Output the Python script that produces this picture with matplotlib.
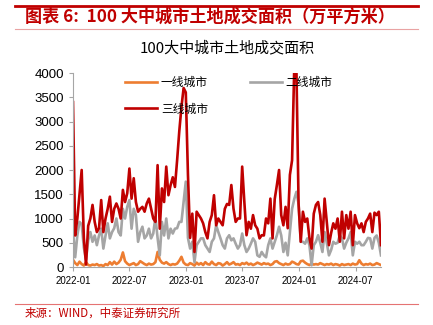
import pandas as pd
import matplotlib
matplotlib.use("Agg")
from matplotlib import pyplot as plt
import matplotlib.dates as mdates

plt.rcParams['font.family'] = ['Noto Sans CJK SC', 'DejaVu Sans']

# 周度数据，2022-01起
tier1 = [150, 80, 40, 110, 60, 30, 100, 40, 30, 50,
         40, 60, 30, 40, 20, 60, 40, 100, 50, 110,
         60, 90, 150, 300, 120, 70, 40, 60, 80, 40,
         60, 120, 90, 60, 40, 70, 50, 60, 100, 310,
         150, 90, 70, 100, 60, 40, 60, 50, 70, 130,
         210, 90, 50, 40, 80, 60, 30, 90, 50, 80,
         40, 100, 60, 50, 110, 60, 40, 80, 70, 30,
         60, 100, 50, 70, 100, 50, 60, 40, 80, 60,
         90, 50, 70, 40, 60, 90, 70, 50, 80, 60,
         70, 40, 60, 110, 120, 80, 60, 40, 70, 50,
         60, 110, 90, 60, 50, 120, 130, 90, 60, 40,
         70, 50, 60, 50, 80, 60, 40, 60, 50, 70,
         40, 60, 50, 30, 60, 40, 50, 60, 40, 70,
         50, 60, 140, 70, 40, 60, 50, 70, 40, 50,
         80, 60, 40]

tier2 = [750, 200, 650, 930, 880, 400, 150, 550, 720, 520,
         650, 450, 650, 790, 380, 650, 900, 590, 720, 800,
         1000, 720, 650, 1200, 1000, 1240, 1380, 790, 1200, 1070,
         520, 720, 830, 590, 650, 790, 590, 690, 1030, 600,
         240, 930, 650, 1000, 590, 790, 690, 790, 800, 930,
         930, 1340, 1760, 600, 380, 520, 100, 450, 520, 590,
         590, 450, 380, 310, 520, 590, 860, 720, 590, 450,
         380, 590, 655, 550, 590, 480, 380, 450, 690, 450,
         310, 380, 480, 590, 520, 240, 210, 310, 240, 200,
         450, 590, 380, 520, 655, 830, 650, 310, 500, 240,
         720, 1200, 1400, 1550, 1300, 520, 520, 480, 590, 450,
         35, 450, 520, 655, 500, 310, 720, 500, 240, 350,
         520, 480, 500, 655, 590, 380, 500, 590, 720, 240,
         520, 480, 520, 450, 450, 520, 600, 590, 380, 600,
         650, 500, 240]

tier3 = [3400, 650, 1000, 1500, 2000, 600, 50, 850, 1000, 1280,
         930, 720, 800, 1380, 720, 1000, 1200, 1450, 930, 1200,
         1310, 1200, 1000, 1590, 1340, 1520, 2030, 1410, 1830, 1340,
         1140, 1200, 1240, 1140, 1310, 1410, 1200, 1000, 930, 2100,
         790, 1620, 1340, 2070, 1480, 1690, 1850, 1650, 2200, 2800,
         3300, 3690, 3600, 1900, 600, 1100, 310, 1140, 1070, 1000,
         900, 720, 590, 930, 1070, 1480, 860, 1000, 930, 860,
         1200, 1300, 1280, 1690, 1200, 930, 1000, 1000, 2070, 1340,
         655, 930, 790, 1070, 860, 790, 590, 655, 650, 1000,
         900, 1410, 590, 1400, 1690, 2000, 1070, 860, 1240, 800,
         1900, 2200, 4100, 4100, 1300, 520, 1140, 930, 1000, 600,
         380, 1100, 1280, 1340, 1070, 520, 1410, 930, 450, 700,
         900, 790, 1000, 520, 1140, 590, 1070, 790, 1140, 450,
         1070, 900, 800, 900, 720, 930, 1000, 1100, 720, 1120,
         1070, 1140, 450]

dates = pd.date_range("2022-01-01", periods=len(tier3), freq="7D")
tick_dates = pd.to_datetime(["2022-01-01", "2022-07-01", "2023-01-01",
                             "2023-07-01", "2024-01-01", "2024-07-01"])

fig = plt.figure(figsize=(4.33, 3.25), dpi=100)

# 报告抬头
fig.add_artist(plt.Line2D([15/433, 418/433], [1-6/325, 1-6/325], color="#C00000", lw=2))
fig.add_artist(plt.Line2D([15/433, 418/433], [1-29/325, 1-29/325], color="#E9A3A3", lw=0.8))
fig.text(25/433, 1-17/325, "图表 6:  100 大中城市土地成交面积（万平方米）",
         color="#C00000", fontsize=12.3, fontweight="bold", style="italic", va="center")
fig.add_artist(plt.Line2D([15/433, 418/433], [1-304/325, 1-304/325], color="#E57373", lw=0.8))
fig.text(25/433, 1-313/325, "来源：WIND，中泰证券研究所", color="#C00000", fontsize=8.3, va="center")

ax = fig.add_axes([73/433, 1-267/325, 308/433, 194/325])
l1, = ax.plot(dates, tier1, color="#ED7D31", lw=1.9, label="一线城市")
l2, = ax.plot(dates, tier2, color="#A5A5A5", lw=1.9, label="二线城市")
l3, = ax.plot(dates, tier3, color="#C00000", lw=1.9, label="三线城市")

ax.set_ylim(0, 4000)
ax.set_yticks(range(0, 4001, 500))
ax.set_xlim(dates[0], dates[-1])
ax.set_xticks(tick_dates)
ax.xaxis.set_major_formatter(mdates.DateFormatter("%Y-%m"))

for s in ["top", "right"]:
    ax.spines[s].set_visible(False)
for s in ["left", "bottom"]:
    ax.spines[s].set_color("#A6A6A6")
    ax.spines[s].set_linewidth(0.8)
ax.tick_params(axis="both", colors="#A6A6A6", length=3, width=0.8)
for lab in ax.get_yticklabels():
    lab.set_fontfamily("Liberation Sans")
    lab.set_fontsize(9.5)
    lab.set_color("black")
for lab in ax.get_xticklabels():
    lab.set_fontfamily("Liberation Sans")
    lab.set_fontsize(7)
    lab.set_color("black")

ax.set_title("100大中城市土地成交面积", fontsize=10.8, pad=15)

ax.legend(handles=[l1, l3, l2], ncol=2, frameon=False, fontsize=8.5,
          loc="upper left", bbox_to_anchor=(0.17, 0.985), borderaxespad=0, borderpad=0,
          handlelength=2.7, handletextpad=0.3, columnspacing=3.6, labelspacing=1.15)

plt.savefig("out.png", dpi=100)
